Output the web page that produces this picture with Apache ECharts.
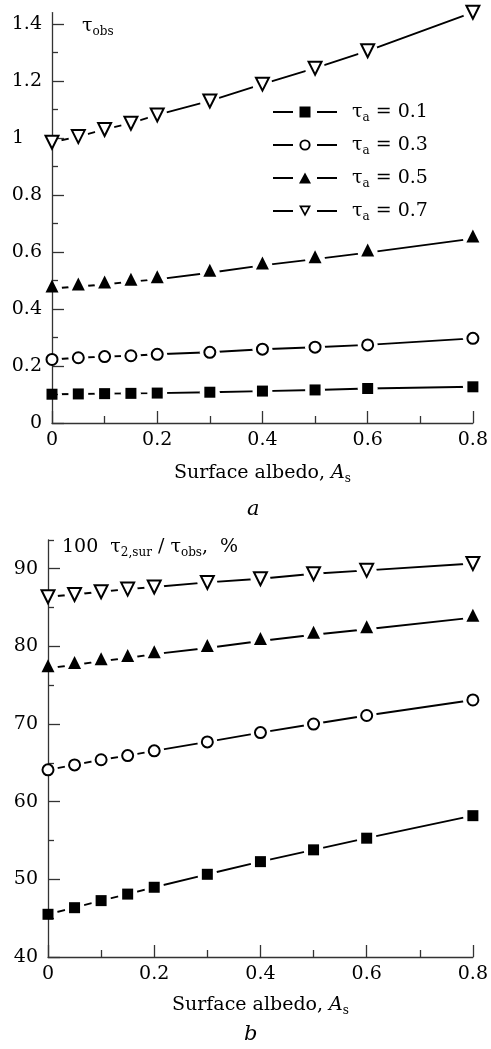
<!DOCTYPE html>
<html><head><meta charset="utf-8">
<script src="https://cdn.jsdelivr.net/npm/echarts@6/dist/echarts.min.js"></script>
<style>html,body{margin:0;padding:0;background:#fff}#c{width:491px;height:1049px}</style>
</head><body><div id="c"></div>
<script>
// ---------- data ----------
const albedo = [0, 0.05, 0.1, 0.15, 0.2, 0.3, 0.4, 0.5, 0.6, 0.8];
const tauNames = ['τa = 0.1', 'τa = 0.3', 'τa = 0.5', 'τa = 0.7'];
// panel a: tau_obs
const tauObs01 = [0.101, 0.102, 0.103, 0.104, 0.105, 0.108, 0.112, 0.116, 0.121, 0.127];
const tauObs03 = [0.223, 0.229, 0.233, 0.236, 0.241, 0.248, 0.259, 0.266, 0.274, 0.297];
const tauObs05 = [0.472, 0.479, 0.486, 0.496, 0.504, 0.527, 0.553, 0.575, 0.598, 0.647];
const tauObs07 = [0.985, 1.005, 1.030, 1.052, 1.081, 1.130, 1.189, 1.245, 1.306, 1.441];
// panel b: 100 tau2,sur / tau_obs, %
const ratio01 = [45.5, 46.35, 47.26, 48.1, 48.98, 50.65, 52.28, 53.8, 55.3, 58.2];
const ratio03 = [64.1, 64.74, 65.4, 65.94, 66.55, 67.7, 68.9, 70.0, 71.1, 73.1];
const ratio05 = [77.2, 77.6, 78.1, 78.5, 79.0, 79.8, 80.7, 81.5, 82.2, 83.7];
const ratio07 = [86.39, 86.69, 87.04, 87.38, 87.64, 88.24, 88.71, 89.36, 89.79, 90.68];
// ticks
const xTickLabels = ['0', '0.2', '0.4', '0.6', '0.8'];
const yTicksA = [0, 0.2, 0.4, 0.6, 0.8, 1, 1.2, 1.4];
const yTickLabelsA = ['0', '0.2', '0.4', '0.6', '0.8', '1', '1.2', '1.4'];
const yMinorA = [0.1, 0.3, 0.5, 0.7, 0.9, 1.1, 1.3];
const yTicksB = [40, 50, 60, 70, 80, 90];
const yTickLabelsB = ['40', '50', '60', '70', '80', '90'];
const yMinorB = [45, 55, 65, 75, 85, 93.7];

// ---------- style ----------
const FONT = 'DejaVu Serif';
const AX = '#333';
const richBase = {
  t: {fontFamily: FONT, fontSize: 19, lineHeight: 24, color: '#000', verticalAlign: 'middle'},
  s: {fontFamily: FONT, fontSize: 12, lineHeight: 14, color: '#000', verticalAlign: 'bottom'},
  i: {fontFamily: FONT, fontSize: 19, lineHeight: 24, color: '#000', fontStyle: 'italic', verticalAlign: 'middle'},
  g: {width: 10},
  w: {fontFamily: FONT, fontSize: 19, width: 30, align: 'left', color: '#000'}
};
const markers = [
  {symbol: 'rect', size: 11, offset: [0, 0], rotate: 0, style: {color: '#000', opacity: 1}},
  {symbol: 'emptyCircle', size: 11, offset: [0, 0], rotate: 0, style: {color: '#000', borderColor: '#000', borderWidth: 2.2, opacity: 1}},
  {symbol: 'triangle', size: 13, offset: [0, -2.5], rotate: 0, style: {color: '#000', opacity: 1}},
  {symbol: 'emptyTriangle', size: 13, offset: [0, 0], rotate: 180, style: {color: '#000', borderColor: '#000', borderWidth: 2.4, opacity: 1}}
];
const legendIcons = [
  'path://M0 5.1H20V6.9H0Z M44 5.1H64V6.9H44Z M26.5 0.5H37.5V11.5H26.5Z',
  'path://M0 5.1H20V6.9H0Z M44 5.1H64V6.9H44Z M26.4 6A5.6 5.6 0 1 1 37.6 6A5.6 5.6 0 1 1 26.4 6Z M28.3 6A3.7 3.7 0 1 0 35.7 6A3.7 3.7 0 1 0 28.3 6Z',
  'path://M0 5.1H20V6.9H0Z M44 5.1H64V6.9H44Z M26 11.5L32 0.5L38 11.5Z',
  'path://M0 5.1H20V6.9H0Z M44 5.1H64V6.9H44Z M26 0.5L38 0.5L32 11.5Z M28.87 2.2L32 7.94L35.13 2.2Z'
];

function pairs(ys) { return albedo.map((x, i) => [x, ys[i]]); }

function seriesFor(gridIdx, sets) {
  const out = [];
  sets.forEach((ys, k) => {
    const d = pairs(ys);
    out.push({type: 'line', name: tauNames[k], xAxisIndex: gridIdx, yAxisIndex: gridIdx * 2,
      data: d, symbol: 'none', z: 2, silent: true, animation: false,
      lineStyle: {color: '#000', width: 1.9}, itemStyle: {color: '#000', borderWidth: 0}});
    out.push({type: 'scatter', xAxisIndex: gridIdx, yAxisIndex: gridIdx * 2, data: d,
      symbol: 'circle', symbolSize: 20, z: 2.5, silent: true, clip: false, animation: false,
      itemStyle: {color: '#fff', opacity: 1}});
    const m = markers[k];
    out.push({type: 'scatter', xAxisIndex: gridIdx, yAxisIndex: gridIdx * 2, data: d,
      symbol: m.symbol, symbolSize: m.size, symbolOffset: m.offset, symbolRotate: m.rotate,
      z: 4, silent: true, clip: false, animation: false, itemStyle: m.style});
  });
  return out;
}

function xAxisFor(gridIdx, gap) {
  return {type: 'value', gridIndex: gridIdx, min: 0, max: 0.8, interval: 0.2, z: 3,
    name: '{t|Surface albedo, }{i|A}{s|s}', nameLocation: 'middle', nameGap: gap,
    nameTextStyle: {rich: richBase},
    axisLine: {show: true, lineStyle: {color: AX, width: 1.3}},
    axisTick: {show: true, inside: true, length: 12, lineStyle: {color: AX, width: 1.3}},
    minorTick: {show: true, splitNumber: 2, length: 7, lineStyle: {color: AX, width: 1.3}},
    splitLine: {show: false},
    axisLabel: {margin: 8, fontFamily: FONT, fontSize: 19, color: '#000',
      formatter: v => xTickLabels[Math.round(v / 0.2)]}};
}

function yAxesFor(gridIdx, min, max, ticks, labels, minor, name, padLeft, gap, labelFmt) {
  return [
    {type: 'value', gridIndex: gridIdx, min: min, max: max, z: 3,
      name: name, nameLocation: 'end', nameGap: gap,
      nameTextStyle: {rich: richBase, align: 'left', verticalAlign: 'middle', padding: [0, 0, 0, padLeft]},
      axisLine: {show: true, lineStyle: {color: AX, width: 1.3}},
      axisTick: {show: true, inside: true, length: 12, customValues: ticks, lineStyle: {color: AX, width: 1.3}},
      splitLine: {show: false},
      axisLabel: {margin: 10, fontFamily: FONT, fontSize: 19, color: '#000', customValues: ticks,
        rich: richBase, formatter: labelFmt}},
    {type: 'value', gridIndex: gridIdx, min: min, max: max, z: 3, position: 'left',
      axisLine: {show: false},
      axisTick: {show: true, inside: true, length: 6, customValues: minor, lineStyle: {color: AX, width: 1.3}},
      splitLine: {show: false}, axisLabel: {show: false}}
  ];
}

const fmtA = v => {
  const idx = yTicksA.findIndex(t => Math.abs(t - v) < 1e-6);
  const s = idx >= 0 ? yTickLabelsA[idx] : '';
  return s === '1' ? '{w|1}' : s;
};
const fmtB = v => {
  const idx = yTicksB.findIndex(t => Math.abs(t - v) < 1e-6);
  return idx >= 0 ? yTickLabelsB[idx] : '';
};

const chart = echarts.init(document.getElementById('c'), null, {renderer: 'canvas'});
chart.setOption({
  animation: false,
  backgroundColor: '#fff',
  title: [
    {text: 'a', left: 242, top: 494, textStyle: {fontFamily: FONT, fontSize: 21, fontStyle: 'italic', fontWeight: 'normal', color: '#000'}},
    {text: 'b', left: 239, top: 1019, textStyle: {fontFamily: FONT, fontSize: 21, fontStyle: 'italic', fontWeight: 'normal', color: '#000'}}
  ],
  grid: [
    {left: 52, top: 12.6, width: 427, height: 410.4},
    {left: 48, top: 540, width: 429, height: 417}
  ],
  legend: {
    orient: 'vertical', left: 268, top: 95, itemWidth: 64, itemHeight: 12, itemGap: 9,
    selectedMode: false,
    itemStyle: {color: '#000', borderWidth: 0},
    data: tauNames.map((n, k) => ({name: n, icon: legendIcons[k], itemStyle: {color: '#000', borderWidth: 0}})),
    textStyle: {fontFamily: FONT, fontSize: 19, lineHeight: 24, color: '#000', rich: richBase},
    formatter: n => '{g|}{t|τ}{s|a}{t|' + n.slice(2) + '}'
  },
  xAxis: [xAxisFor(0, 38), xAxisFor(1, 36)],
  yAxis: [
    ...yAxesFor(0, 0, 1.44, yTicksA, yTickLabelsA, yMinorA, '{t|τ}{s|obs}', 30, -13, fmtA),
    ...yAxesFor(1, 40, 93.7, yTicksB, yTickLabelsB, yMinorB,
      '{t|100  τ}{s|2,sur}{t| / τ}{s|obs}{t|,  %}', 14, -7, fmtB)
  ],
  series: [
    ...seriesFor(0, [tauObs01, tauObs03, tauObs05, tauObs07]),
    ...seriesFor(1, [ratio01, ratio03, ratio05, ratio07])
  ]
});
</script></body></html>
